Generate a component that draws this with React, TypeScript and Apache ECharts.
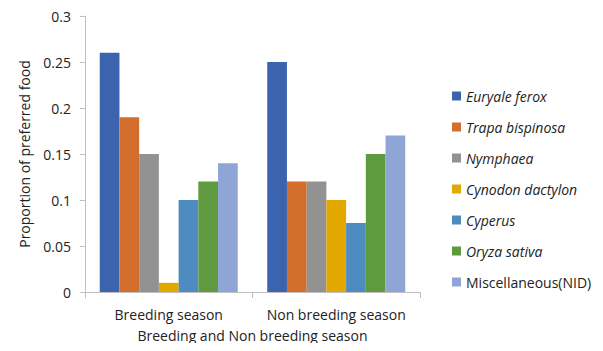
import React, { useEffect, useRef } from "react";
import * as echarts from "echarts";

const categories = ["Breeding season", "Non breeding season"];
const seriesNames = [
  "Euryale ferox",
  "Trapa bispinosa",
  "Nymphaea",
  "Cynodon dactylon",
  "Cyperus",
  "Oryza sativa",
  "Miscellaneous(NID)",
];
const italicNames = [true, true, true, true, true, true, false];
const euryale = [0.26, 0.25];
const trapa = [0.19, 0.12];
const nymphaea = [0.15, 0.12];
const cynodon = [0.01, 0.1];
const cyperus = [0.1, 0.075];
const oryza = [0.12, 0.15];
const misc = [0.14, 0.17];
const seriesValues = [euryale, trapa, nymphaea, cynodon, cyperus, oryza, misc];
const colors = ["#3C64AE", "#D46E2C", "#929292", "#E3A800", "#4E8BC0", "#5F9A3F", "#8FA5D6"];
const yTicks = { min: 0, max: 0.3, interval: 0.05 };

const FONT = "'Open Sans', sans-serif";
const FS = 14;

export default function App() {
  const ref = useRef<HTMLDivElement>(null);
  useEffect(() => {
    if (!ref.current) return;
    const chart = echarts.init(ref.current, undefined, { renderer: "svg" });
    chart.setOption({
      animation: false,
      textStyle: { fontFamily: FONT },
      grid: { left: 85, right: 183, top: 16, bottom: 59 },
      legend: {
        orient: "vertical",
        left: 447,
        top: 84,
        itemWidth: 9,
        itemHeight: 9,
        itemGap: 17,
        icon: "rect",
        textStyle: { fontSize: FS, lineHeight: 14, color: "#222", fontFamily: FONT },
        data: seriesNames.map((n, i) => ({
          name: n,
          textStyle: { fontStyle: italicNames[i] ? "italic" : "normal" },
        })),
      },
      xAxis: {
        type: "category",
        data: categories,
        name: "Breeding and Non breeding season",
        nameLocation: "middle",
        nameGap: 36,
        nameTextStyle: { fontSize: FS, color: "#222" },
        axisLine: { lineStyle: { color: "#BFBFBF" } },
        axisTick: { show: true, length: 6, lineStyle: { color: "#BFBFBF" } },
        axisLabel: { fontSize: FS, color: "#222", margin: 15, interval: 0 },
      },
      yAxis: {
        type: "value",
        min: yTicks.min,
        max: yTicks.max,
        interval: yTicks.interval,
        name: "Proportion of preferred food",
        nameLocation: "middle",
        nameGap: 54,
        nameTextStyle: { fontSize: FS, color: "#222" },
        axisLine: { show: true, lineStyle: { color: "#BFBFBF" } },
        axisTick: { show: true, length: 5, inside: false, lineStyle: { color: "#BFBFBF" } },
        splitLine: { show: false },
        axisLabel: {
          fontSize: FS,
          color: "#222",
          margin: 14,
          formatter: (v: number) => String(Math.round(v * 1000) / 1000),
        },
      },
      series: seriesNames.map((n, i) => ({
        name: n,
        type: "bar",
        data: seriesValues[i],
        itemStyle: { color: colors[i] },
        barGap: "0%",
        barCategoryGap: "17.6%",
      })),
    });
    return () => chart.dispose();
  }, []);
  return <div ref={ref} style={{ width: 603, height: 351, margin: -8 }} />;
}
